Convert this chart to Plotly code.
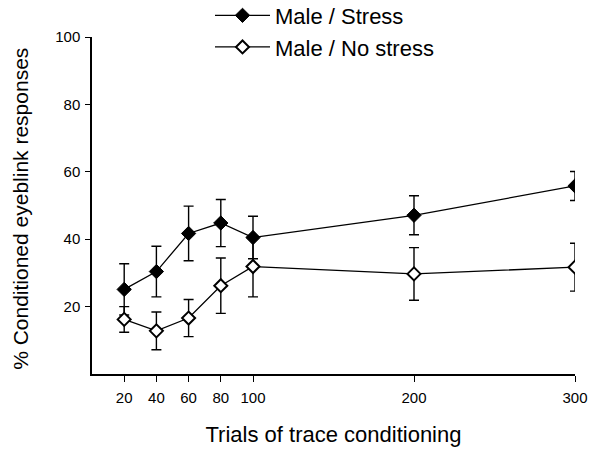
import plotly.graph_objects as go

trials = [20, 40, 60, 80, 100, 200, 300]
stress_mean = [25.1, 30.4, 41.7, 44.8, 40.5, 47.1, 55.8]
stress_err = [7.6, 7.5, 8.1, 7.0, 6.3, 5.8, 4.3]
nostress_mean = [16.2, 12.8, 16.6, 26.2, 31.9, 29.7, 31.7]
nostress_err = [3.8, 5.6, 5.5, 8.2, 9.0, 7.8, 7.1]
x_ticks = [20, 40, 60, 80, 100, 200, 300]
y_ticks = [20, 40, 60, 80, 100]

FONT = "Liberation Sans, Arial, sans-serif"

fig = go.Figure()
fig.add_trace(go.Scatter(
    x=trials, y=stress_mean, name="Male / Stress", mode="lines+markers",
    legendgroup="a",
    line=dict(color="black", width=1.3),
    marker=dict(symbol="diamond", size=11, color="black", line=dict(color="black", width=1)),
    error_y=dict(type="data", array=stress_err, visible=True, color="black", thickness=1.4, width=5),
))
fig.add_trace(go.Scatter(
    x=trials, y=nostress_mean, name="Male / No stress", mode="lines+markers",
    legendgroup="b",
    line=dict(color="black", width=1.3),
    marker=dict(symbol="diamond", size=10, color="white", line=dict(color="black", width=2)),
    error_y=dict(type="data", array=nostress_err, visible=True, color="black", thickness=1.4, width=5),
))

fig.update_layout(
    width=600, height=458,
    margin=dict(l=92, r=25, t=37, b=84, autoexpand=False),
    paper_bgcolor="white", plot_bgcolor="white",
    font=dict(family=FONT, color="black"),
    showlegend=True,
    legend=dict(
        x=0.2443, y=1.126, xanchor="left", yanchor="top",
        font=dict(size=22, family=FONT),
        itemwidth=55, traceorder="grouped", tracegroupgap=0,
        bgcolor="rgba(0,0,0,0)",
    ),
    xaxis=dict(
        range=[0, 300], tickvals=x_ticks, ticktext=[str(v) for v in x_ticks],
        showline=True, linecolor="black", linewidth=1.5,
        ticks="outside", ticklen=6, tickwidth=1.2, tickcolor="black",
        tickfont=dict(size=15), ticklabelstandoff=3, tickangle=0,
        showgrid=False, zeroline=False,
        title=dict(text="Trials of trace conditioning", font=dict(size=22), standoff=22),
    ),
    yaxis=dict(
        range=[0, 100], tickvals=y_ticks,
        showline=True, linecolor="black", linewidth=1.5,
        ticks="outside", ticklen=5, tickwidth=1.2, tickcolor="black",
        tickfont=dict(size=15), ticklabelstandoff=2,
        showgrid=False, zeroline=False,
    ),
    annotations=[dict(
        text="% Conditioned eyeblink responses", textangle=-90,
        xref="paper", yref="paper", x=-0.147, y=0.49,
        xanchor="center", yanchor="middle", showarrow=False,
        font=dict(size=21, family=FONT, color="black"),
    )],
)

fig.write_html("out.html", config={"displayModeBar": False},
               post_script="document.body.style.margin='0';")
